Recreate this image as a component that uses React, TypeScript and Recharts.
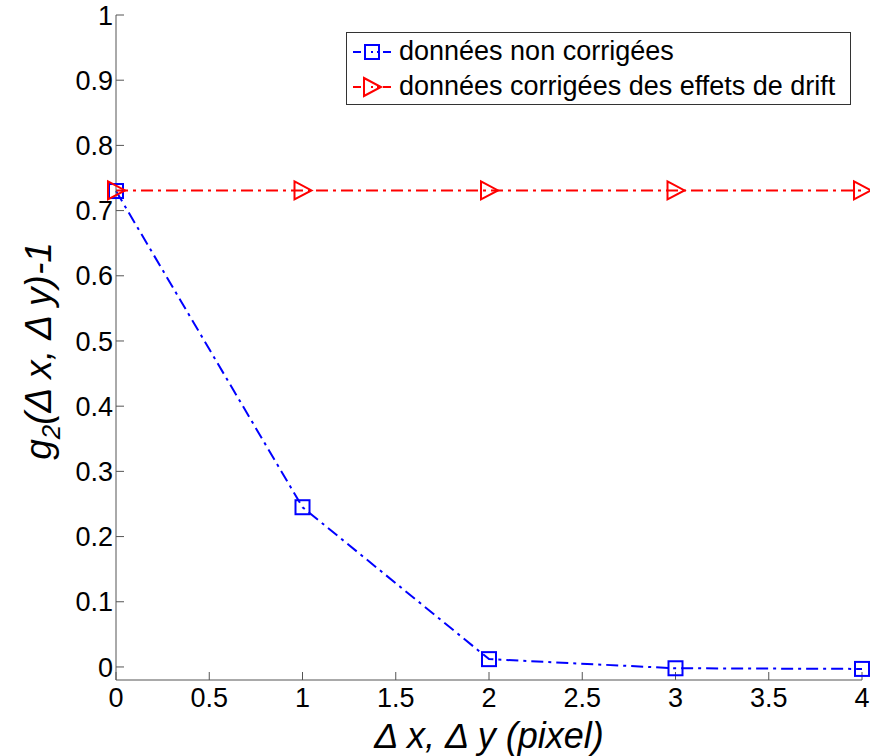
import { LineChart, Line, XAxis, YAxis } from 'recharts'

const shifts = [0, 1, 2, 3, 4]
const raw = [0.73, 0.245, 0.012, -0.002, -0.003]
const corrected = [0.731, 0.731, 0.731, 0.731, 0.731]
const xTicks = [0, 0.5, 1, 1.5, 2, 2.5, 3, 3.5, 4]
const yTicks = [0, 0.1, 0.2, 0.3, 0.4, 0.5, 0.6, 0.7, 0.8, 0.9, 1]
const labels = ['données non corrigées', 'données corrigées des effets de drift']

const data = shifts.map((s, i) => ({ s, raw: raw[i], corr: corrected[i] }))

const FONT = '"Liberation Sans", Arial, sans-serif'
const AXIS = '#555'
const DASH = '12 5 3 5'

const Square = (props: any) => {
  const { cx, cy } = props
  if (cx == null || cy == null) return null
  return <rect x={cx - 7} y={cy - 7} width={14} height={14} fill="none" stroke="#0000ff" strokeWidth={2} />
}

const Triangle = (props: any) => {
  const { cx, cy } = props
  if (cx == null || cy == null) return null
  return (
    <polygon
      points={`${cx - 8},${cy - 9} ${cx + 9},${cy} ${cx - 8},${cy + 9}`}
      fill="none"
      stroke="#ff0000"
      strokeWidth={2}
    />
  )
}

const LegendBox = () => (
  <div
    style={{
      position: 'absolute',
      left: 346,
      top: 32,
      width: 505,
      height: 73,
      border: '1px solid #333',
      background: '#fff',
      fontFamily: FONT,
      fontSize: 27,
      color: '#000',
      boxSizing: 'border-box',
    }}
  >
    {labels.map((t, i) => (
      <div key={t} style={{ display: 'flex', alignItems: 'center', height: 35, marginTop: i === 0 ? 1 : 0 }}>
        <svg width={52} height={35} style={{ flex: 'none' }}>
          <line x1={6} x2={48} y1={18} y2={18} stroke={i === 0 ? '#0000ff' : '#ff0000'} strokeWidth={2} strokeDasharray="8 10 2 4 2 4" />
          {i === 0 ? <Square cx={25} cy={18} /> : <Triangle cx={25} cy={18} />}
        </svg>
        <span style={{ whiteSpace: 'nowrap' }}>{t}</span>
      </div>
    ))}
  </div>
)

const YLabel = () => (
  <text
    transform="translate(51, 351) rotate(-90)"
    textAnchor="middle"
    fontFamily={FONT}
    fontSize={37}
    fontStyle="italic"
    fill="#000"
  >
    g<tspan fontSize={26} dy={9}>2</tspan>
    <tspan dy={-9}>(Δ x, Δ y)-1</tspan>
  </text>
)

export default function App() {
  return (
    <div style={{ position: 'absolute', left: 0, top: 0, width: 870, height: 756, background: '#fff' }}>
      <LineChart width={870} height={756} data={data} margin={{ top: 15, right: 8, bottom: 0, left: 0 }}>
        <XAxis
          dataKey="s"
          type="number"
          domain={[0, 4]}
          ticks={xTicks}
          height={76}
          stroke={AXIS}
          tickSize={-8}
          tickMargin={16}
          tick={{ fill: '#000', fontSize: 27, fontFamily: FONT }}
          label={{
            value: 'Δ x, Δ y (pixel)',
            position: 'insideBottom',
            offset: 8,
            fill: '#000',
            fontSize: 36,
            fontStyle: 'italic',
            fontFamily: FONT,
          }}
        />
        <XAxis xAxisId="top" dataKey="s" type="number" domain={[0, 4]} ticks={xTicks} orientation="top" height={0} stroke={AXIS} tickSize={-8} tick={false} />
        <YAxis
          type="number"
          domain={[-0.02, 1]}
          ticks={yTicks}
          width={116}
          stroke={AXIS}
          tickSize={-8}
          tickMargin={11}
          tick={{ fill: '#000', fontSize: 27, fontFamily: FONT }}
          label={<YLabel />}
        />
        <YAxis yAxisId="right" type="number" domain={[-0.02, 1]} ticks={yTicks} orientation="right" width={0} stroke={AXIS} tickSize={-8} tick={false} />
        <Line
          dataKey="raw"
          stroke="#0000ff"
          strokeWidth={2}
          strokeDasharray={DASH}
          dot={<Square />}
          isAnimationActive={false}
        />
        <Line
          dataKey="corr"
          stroke="#ff0000"
          strokeWidth={2}
          strokeDasharray={DASH}
          dot={<Triangle />}
          isAnimationActive={false}
        />
      </LineChart>
      <LegendBox />
    </div>
  )
}
